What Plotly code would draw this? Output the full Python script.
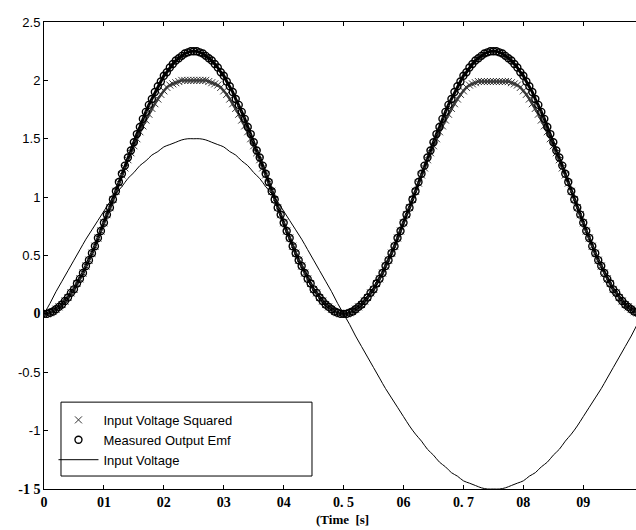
import plotly.graph_objects as go

# time grids (s)
t_fine = [round(i * 0.005, 3) for i in range(201)]
t_line = [round(i * 0.01, 2) for i in range(101)]

# Measured Output Emf (circles)
emf = [
    0.00, 0.00, 0.01, 0.02, 0.04, 0.06, 0.08, 0.11, 0.14, 0.18,
    0.21, 0.26, 0.30, 0.35, 0.41, 0.46, 0.52, 0.58, 0.65, 0.71,
    0.78, 0.85, 0.91, 0.98, 1.05, 1.13, 1.20, 1.27, 1.34, 1.40,
    1.47, 1.54, 1.60, 1.67, 1.73, 1.79, 1.84, 1.90, 1.95, 1.99,
    2.04, 2.07, 2.11, 2.14, 2.17, 2.19, 2.21, 2.23, 2.24, 2.25,
    2.25,
    2.25, 2.24, 2.23, 2.21, 2.19, 2.17, 2.14, 2.11, 2.07, 2.04,
    1.99, 1.95, 1.90, 1.84, 1.79, 1.73, 1.67, 1.60, 1.54, 1.47,
    1.40, 1.34, 1.27, 1.20, 1.13, 1.05, 0.98, 0.91, 0.85, 0.78,
    0.71, 0.65, 0.58, 0.52, 0.46, 0.41, 0.35, 0.30, 0.26, 0.21,
    0.18, 0.14, 0.11, 0.08, 0.06, 0.04, 0.02, 0.01, 0.00, 0.00,
    0.00, 0.01, 0.02, 0.04, 0.06, 0.08, 0.11, 0.14, 0.18, 0.21,
    0.26, 0.30, 0.35, 0.41, 0.46, 0.52, 0.58, 0.65, 0.71, 0.78,
    0.85, 0.91, 0.98, 1.05, 1.13, 1.20, 1.27, 1.34, 1.40, 1.47,
    1.54, 1.60, 1.67, 1.73, 1.79, 1.84, 1.90, 1.95, 1.99, 2.04,
    2.07, 2.11, 2.14, 2.17, 2.19, 2.21, 2.23, 2.24, 2.25, 2.25,
    2.25, 2.24, 2.23, 2.21, 2.19, 2.17, 2.14, 2.11, 2.07, 2.04,
    1.99, 1.95, 1.90, 1.84, 1.79, 1.73, 1.67, 1.60, 1.54, 1.47,
    1.40, 1.34, 1.27, 1.20, 1.13, 1.05, 0.98, 0.91, 0.85, 0.78,
    0.71, 0.65, 0.58, 0.52, 0.46, 0.41, 0.35, 0.30, 0.26, 0.21,
    0.18, 0.14, 0.11, 0.08, 0.06, 0.04, 0.02, 0.01, 0.00, 0.00,
]

# Input Voltage Squared (crosses)
vsq = [
    0.00, 0.00, 0.01, 0.02, 0.04, 0.06, 0.08, 0.11, 0.14, 0.18,
    0.21, 0.26, 0.30, 0.35, 0.41, 0.46, 0.52, 0.58, 0.65, 0.71,
    0.78, 0.85, 0.91, 0.98, 1.05, 1.12, 1.19, 1.25, 1.32, 1.38,
    1.44, 1.50, 1.56, 1.61, 1.66, 1.71, 1.76, 1.80, 1.84, 1.88,
    1.91, 1.94, 1.96, 1.97, 1.98, 1.99, 2.00, 2.00, 2.00, 2.00,
    2.00,
    2.00, 2.00, 2.00, 2.00, 1.99, 1.98, 1.97, 1.96, 1.94, 1.91,
    1.88, 1.84, 1.80, 1.76, 1.71, 1.66, 1.61, 1.56, 1.50, 1.44,
    1.38, 1.32, 1.25, 1.19, 1.12, 1.05, 0.98, 0.91, 0.85, 0.78,
    0.71, 0.65, 0.58, 0.52, 0.46, 0.41, 0.35, 0.30, 0.26, 0.21,
    0.18, 0.14, 0.11, 0.08, 0.06, 0.04, 0.02, 0.01, 0.00, 0.00,
    0.00, 0.01, 0.02, 0.04, 0.06, 0.08, 0.11, 0.14, 0.18, 0.21,
    0.26, 0.30, 0.35, 0.41, 0.46, 0.52, 0.58, 0.65, 0.71, 0.78,
    0.85, 0.91, 0.98, 1.05, 1.12, 1.19, 1.25, 1.32, 1.38, 1.44,
    1.50, 1.56, 1.61, 1.66, 1.71, 1.76, 1.80, 1.84, 1.88, 1.91,
    1.94, 1.96, 1.97, 1.98, 1.99, 1.99, 1.99, 1.99, 1.99, 1.99,
    1.99, 1.99, 1.99, 1.99, 1.99, 1.98, 1.97, 1.96, 1.94, 1.91,
    1.88, 1.84, 1.80, 1.76, 1.71, 1.66, 1.61, 1.56, 1.50, 1.44,
    1.38, 1.32, 1.25, 1.19, 1.12, 1.05, 0.98, 0.91, 0.85, 0.78,
    0.71, 0.65, 0.58, 0.52, 0.46, 0.41, 0.35, 0.30, 0.26, 0.21,
    0.18, 0.14, 0.11, 0.08, 0.06, 0.04, 0.02, 0.01, 0.00, 0.00,
]

# Input Voltage (line)
vin = [
    0.00, 0.09, 0.19, 0.28, 0.37, 0.46, 0.55, 0.64, 0.72, 0.80,
    0.88, 0.96, 1.03, 1.09, 1.16, 1.21, 1.27, 1.31, 1.36, 1.39,
    1.43, 1.45, 1.47, 1.49, 1.50, 1.50, 1.50, 1.49, 1.47, 1.45,
    1.43, 1.39, 1.36, 1.31, 1.27, 1.21, 1.16, 1.09, 1.03, 0.96,
    0.88, 0.80, 0.72, 0.64, 0.55, 0.46, 0.37, 0.28, 0.19, 0.09,
    0.00, -0.09, -0.19, -0.28, -0.37, -0.46, -0.55, -0.64, -0.72, -0.80,
    -0.88, -0.96, -1.03, -1.09, -1.16, -1.21, -1.27, -1.31, -1.36, -1.39,
    -1.43, -1.45, -1.47, -1.49, -1.50, -1.50, -1.50, -1.49, -1.47, -1.45,
    -1.43, -1.39, -1.36, -1.31, -1.27, -1.21, -1.16, -1.09, -1.03, -0.96,
    -0.88, -0.80, -0.72, -0.64, -0.55, -0.46, -0.37, -0.28, -0.19, -0.09,
    0.00,
]

x_tickvals = [0, 0.1, 0.2, 0.3, 0.4, 0.5, 0.6, 0.7, 0.8, 0.9]
x_ticktext = ["0", "01", "02", "03", "04", "0. 5", "06", "0. 7", "08", "09"]
y_tickvals = [-1.5, -1, -0.5, 0, 0.5, 1, 1.5, 2, 2.5]
SERIF_B = "<span style='font-family:Liberation Serif;font-weight:bold;font-size:14px'>{}</span>"
y_ticktext = [SERIF_B.format("-1 5"), "-1", "-0.5", SERIF_B.format("0"),
              "0.5", "1", "1.5", "2", "2.5"]

fig = go.Figure()
# dense marker bands: connecting strokes under the markers
fig.add_trace(go.Scatter(
    x=t_fine, y=vsq, mode="lines", showlegend=False, hoverinfo="skip",
    line=dict(color="#444", width=2.5),
))
fig.add_trace(go.Scatter(
    x=t_fine, y=emf, mode="lines", showlegend=False, hoverinfo="skip",
    line=dict(color="black", width=3),
))
fig.add_trace(go.Scatter(
    x=t_fine, y=vsq, mode="markers", name="Input Voltage Squared",
    marker=dict(symbol="x-thin", size=7, color="#333",
                line=dict(color="#333", width=1)),
))
fig.add_trace(go.Scatter(
    x=t_fine, y=emf, mode="markers", name="Measured Output Emf",
    marker=dict(symbol="circle-open", size=7, color="black",
                line=dict(color="black", width=1.4)),
))
fig.add_trace(go.Scatter(
    x=t_line, y=vin, mode="lines", name="Input Voltage",
    line=dict(color="black", width=1, shape="spline"),
))

fig.update_layout(
    width=636, height=530,
    margin=dict(l=44, r=0, t=22, b=41, autoexpand=False),
    paper_bgcolor="white", plot_bgcolor="white",
    font=dict(family="Liberation Sans", color="black", size=12),
    showlegend=True,
    legend=dict(
        x=0.016, y=0.18, xanchor="left", yanchor="top",
        bgcolor="rgba(0,0,0,0)", borderwidth=0,
        font=dict(family="Liberation Sans", size=13, color="black"),
        tracegroupgap=0, itemwidth=40,
    ),
    shapes=[dict(type="rect", xref="paper", yref="paper",
                 x0=0.0287, x1=0.4527, y0=0.0278, y1=0.186,
                 line=dict(color="black", width=1), layer="above")],
    annotations=[dict(text="(Time  [s]", xref="paper", yref="paper",
                      x=0.505, y=0, xanchor="center", yanchor="top",
                      yshift=-21, showarrow=False,
                      font=dict(family="Liberation Serif", size=13,
                                weight="bold"))],
)
fig.update_xaxes(
    range=[0, 0.988], tickvals=x_tickvals, ticktext=x_ticktext,
    ticks="inside", ticklen=4, tickcolor="black", automargin=False,
    showline=True, linecolor="black", linewidth=1, mirror="ticks",
    showgrid=False, zeroline=False,
    tickfont=dict(family="Liberation Serif", size=14, weight="bold"),
)
fig.update_yaxes(
    range=[-1.5, 2.5], tickvals=y_tickvals, ticktext=y_ticktext,
    ticks="inside", ticklen=4, tickcolor="black", automargin=False,
    showline=True, linecolor="black", linewidth=1, mirror=False,
    showgrid=False, zeroline=False,
    tickfont=dict(family="Liberation Sans", size=13),
)

fig.write_html(
    "out.html",
    config={"displayModeBar": False},
    post_script="document.body.style.margin='0';document.body.style.overflow='hidden';",
)
